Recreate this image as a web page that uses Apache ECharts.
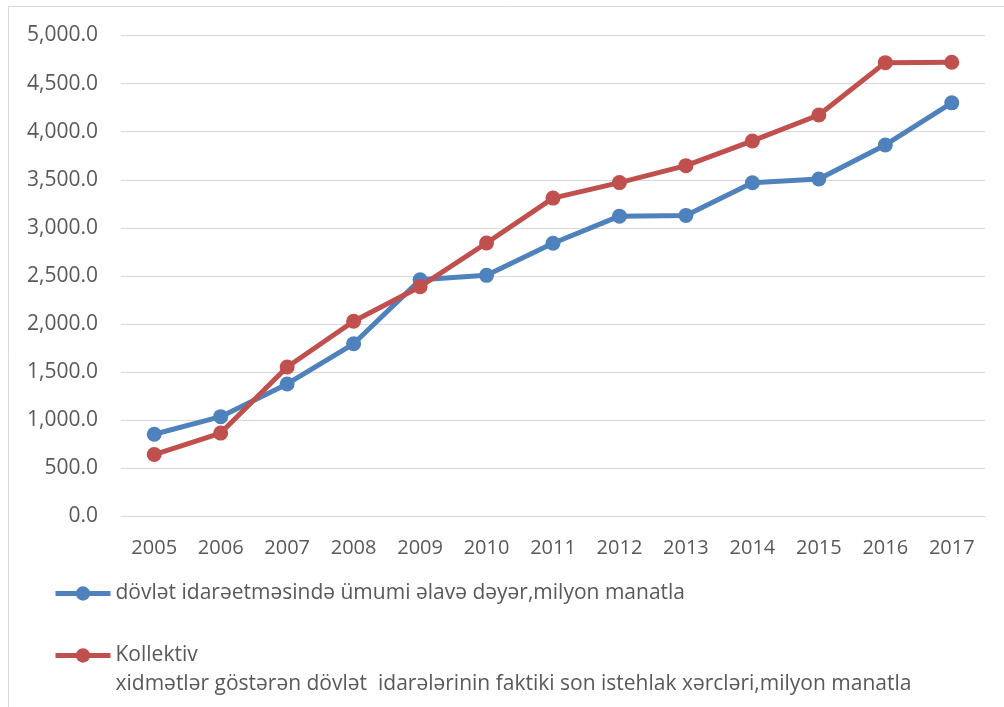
<!DOCTYPE html>
<html>
<head>
<meta charset="utf-8">
<script src="https://cdn.jsdelivr.net/npm/echarts@6/dist/echarts.min.js"></script>
<style>
html,body{margin:0;padding:0;background:#fff;}
#chart{width:1004px;height:707px;}
</style>
</head>
<body>
<div id="chart"></div>
<script>
const years = ['2005','2006','2007','2008','2009','2010','2011','2012','2013','2014','2015','2016','2017'];
const valueAdded = [855, 1038, 1378, 1795, 2460, 2507, 2841, 3122, 3130, 3469, 3508, 3862, 4300];
const consumption = [644, 867, 1554, 2030, 2389, 2843, 3310, 3471, 3647, 3904, 4174, 4718, 4722];
const seriesNames = [
  'dövlət idarəetməsində ümumi əlavə dəyər,milyon manatla',
  'Kollektiv\nxidmətlər göstərən dövlət  idarələrinin faktiki son istehlak xərcləri,milyon manatla'
];
const colors = ['#4F81BD', '#C0504D'];

function fmt(v){
  return Number(v).toLocaleString('en-US', {minimumFractionDigits:1, maximumFractionDigits:1});
}

const chart = echarts.init(document.getElementById('chart'), null, {renderer:'canvas'});
const fontFamily = '"Open Sans", "Noto Sans", sans-serif';
chart.setOption({
  animation: false,
  backgroundColor: '#ffffff',
  color: colors,
  textStyle: {fontFamily: fontFamily, color: '#595959'},
  graphic: [{
    type: 'rect',
    shape: {x: 8.5, y: 6.5, width: 1100, height: 800},
    style: {fill: 'none', stroke: '#d9d9d9', lineWidth: 1},
    silent: true,
    z: -10
  }],
  grid: {left: 121, right: 19, top: 35.5, bottom: 190.5, containLabel: false},
  xAxis: {
    type: 'category',
    data: years,
    boundaryGap: true,
    axisLine: {show: true, lineStyle: {color: '#d9d9d9', width: 1}},
    axisTick: {show: false},
    axisLabel: {color: '#595959', fontSize: 20, margin: 22, fontFamily: fontFamily}
  },
  yAxis: {
    type: 'value',
    min: 0, max: 5000, interval: 500,
    axisLine: {show: false},
    axisTick: {show: false},
    splitLine: {lineStyle: {color: '#d9d9d9', width: 1}},
    axisLabel: {color: '#595959', fontSize: 21, margin: 23, fontFamily: fontFamily, formatter: fmt}
  },
  legend: [{
    data: [seriesNames[0]],
    left: 53, top: 579,
    orient: 'vertical',
    itemWidth: 55, itemHeight: 18,
    itemGap: 0,
    padding: 0,
    lineStyle: {width: 5},
    textStyle: {fontSize: 21, color: '#595959', fontFamily: fontFamily, lineHeight: 29}
  },{
    data: [seriesNames[1]],
    left: 53, top: 612,
    orient: 'vertical',
    itemWidth: 55, itemHeight: 18,
    itemGap: 0,
    padding: 0,
    lineStyle: {width: 5},
    formatter: function(name){ return '\n' + name; },
    textStyle: {fontSize: 21, color: '#595959', fontFamily: fontFamily, lineHeight: 29}
  }],
  series: [{
    name: seriesNames[0],
    type: 'line',
    data: valueAdded,
    symbol: 'circle',
    symbolSize: 15,
    lineStyle: {width: 5, color: colors[0]},
    itemStyle: {color: colors[0]},
    z: 2
  },{
    name: seriesNames[1],
    type: 'line',
    data: consumption,
    symbol: 'circle',
    symbolSize: 15,
    lineStyle: {width: 5, color: colors[1]},
    itemStyle: {color: colors[1]},
    z: 3
  }]
});
</script>
</body>
</html>
